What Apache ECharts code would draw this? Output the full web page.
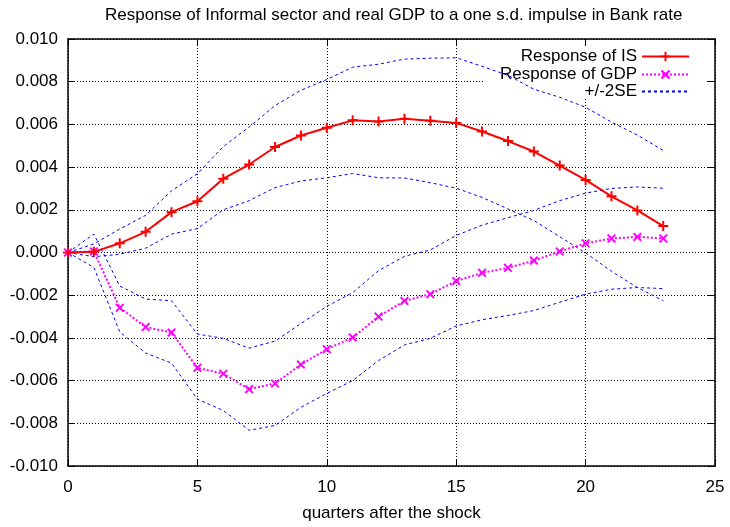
<!DOCTYPE html>
<html>
<head>
<meta charset="utf-8">
<script src="https://cdn.jsdelivr.net/npm/echarts@6/dist/echarts.min.js"></script>
<style>html,body{margin:0;padding:0;background:#fff;}#c{width:730px;height:527px;}</style>
</head>
<body>
<div id="c"></div>
<script>
var quarters = [0,1,2,3,4,5,6,7,8,9,10,11,12,13,14,15,16,17,18,19,20,21,22,23];
var respIS = [0,0.00003,0.00043,0.00097,0.00189,0.0024,0.00346,0.00412,0.00494,0.00548,0.00584,0.00619,0.00614,0.00627,0.00617,0.00607,0.00567,0.00522,0.00473,0.00407,0.0034,0.00263,0.00197,0.00124];
var respGDP = [0,0.00005,-0.00259,-0.00349,-0.00375,-0.0054,-0.00568,-0.0064,-0.00613,-0.00525,-0.00453,-0.00398,-0.003,-0.00227,-0.00195,-0.00134,-0.00095,-0.00072,-0.00038,0.00005,0.00043,0.00066,0.00073,0.00066];
var isUpper = [0,0.0004,0.0011,0.00174,0.00289,0.00369,0.00496,0.00588,0.00688,0.0076,0.0081,0.00868,0.00882,0.00906,0.0091,0.00912,0.00872,0.0083,0.00765,0.00727,0.0068,0.00611,0.0055,0.00478];
var isLower = [0,-0.0002,-0.00008,0.0002,0.00086,0.00112,0.002,0.00243,0.00304,0.00335,0.0035,0.0037,0.0035,0.00349,0.00327,0.00301,0.00258,0.00204,0.0015,0.00074,-0.00002,-0.00088,-0.00164,-0.00226];
var gdpUpper = [0,0.00086,-0.00157,-0.00218,-0.00226,-0.00382,-0.00402,-0.00448,-0.00415,-0.00333,-0.00252,-0.00188,-0.00085,-0.00018,0.00012,0.0008,0.00128,0.00163,0.00197,0.00243,0.00278,0.003,0.00307,0.00301];
var gdpLower = [0,-0.0007,-0.00372,-0.00471,-0.00518,-0.00687,-0.0074,-0.00833,-0.0081,-0.00725,-0.0066,-0.006,-0.00506,-0.00433,-0.00402,-0.00344,-0.00315,-0.00295,-0.00272,-0.00233,-0.00195,-0.00172,-0.00164,-0.00169];
var yTicks = {min:-0.01, max:0.01, interval:0.002};
var xTicks = {min:0, max:25, interval:5};

function pairs(ys){ return quarters.map(function(q,i){ return [q, ys[i]]; }); }

var FONT = 'Liberation Sans';
var FS = 17;
var plusSym = 'path://M4,0h2v4h4v2h-4v4h-2v-4h-4v-2h4z';
var xSym = 'path://M0,1.5L1.5,0L5,3.5L8.5,0L10,1.5L6.5,5L10,8.5L8.5,10L5,6.5L1.5,10L0,8.5L3.5,5Z';
var seStyle = {color:'#0000ff', width:1, type:[3,3]};

function seSeries(ys){
  return {name:'+/-2SE', type:'line', data:pairs(ys), showSymbol:false, symbol:'none',
    lineStyle:seStyle, itemStyle:{color:'#0000ff'}, z:3, silent:true};
}
function leg(item, top){
  return {data:[item], right:35, top:top, align:'right', itemWidth:47, itemHeight:12,
    textStyle:{fontFamily:FONT, fontSize:FS, color:'#000'}};
}

var chart = echarts.init(document.getElementById('c'), null, {renderer:'canvas'});
var baseAxis = {
  axisLine:{show:true, onZero:false, lineStyle:{color:'#000', width:1.5}},
  axisTick:{show:true, inside:true, length:7, lineStyle:{color:'#000', width:1}},
};
chart.setOption({
  animation:false,
  backgroundColor:'#fff',
  textStyle:{fontFamily:FONT},
  title:{text:'Response of Informal sector and real GDP to a one s.d. impulse in Bank rate',
    left:100, top:2, textStyle:{fontFamily:FONT, fontSize:FS, fontWeight:'normal', color:'#000'}},
  grid:{left:68, right:15, top:39, bottom:54, containLabel:false},
  legend:[
    leg('Response of IS', 43),
    leg('Response of GDP', 61),
    leg({name:'+/-2SE', itemStyle:{opacity:0}}, 78)
  ],
  graphic:[{type:'rect', shape:{x:485, y:46, width:222, height:51}, style:{fill:'#fff'}, z:1, silent:true}],
  xAxis:[
    Object.assign({type:'value', position:'bottom', min:xTicks.min, max:xTicks.max, interval:xTicks.interval,
      axisLabel:{color:'#000', fontSize:FS, fontFamily:FONT, margin:13},
      splitLine:{show:true, lineStyle:{color:'#000', width:1, type:[1,2]}},
      name:'quarters after the shock', nameLocation:'middle', nameGap:39,
      nameTextStyle:{color:'#000', fontSize:FS, fontFamily:FONT}}, baseAxis),
    Object.assign({type:'value', position:'top', min:xTicks.min, max:xTicks.max, interval:xTicks.interval,
      axisLabel:{show:false}, splitLine:{show:false}}, baseAxis)
  ],
  yAxis:[
    Object.assign({type:'value', position:'left', min:yTicks.min, max:yTicks.max, interval:yTicks.interval,
      axisLabel:{color:'#000', fontSize:FS, fontFamily:FONT, margin:10, formatter:function(v){ return (Math.abs(v)<1e-12?0:v).toFixed(3); }},
      splitLine:{show:true, lineStyle:{color:'#000', width:1, type:[1,2]}}}, baseAxis),
    Object.assign({type:'value', position:'right', min:yTicks.min, max:yTicks.max, interval:yTicks.interval,
      axisLabel:{show:false}, splitLine:{show:false}}, baseAxis)
  ],
  series:[
    {name:'Response of IS', type:'line', data:pairs(respIS), symbol:plusSym, symbolSize:10, showAllSymbol:true,
      lineStyle:{color:'#ff0000', width:2}, itemStyle:{color:'#ff0000'}, z:5},
    {name:'Response of GDP', type:'line', data:pairs(respGDP), symbol:xSym, symbolSize:9, showAllSymbol:true,
      lineStyle:{color:'#ff00ff', width:2, type:[2,2]}, itemStyle:{color:'#ff00ff'}, z:4},
    seSeries(isUpper), seSeries(isLower), seSeries(gdpUpper), seSeries(gdpLower)
  ]
});
</script>
</body>
</html>
